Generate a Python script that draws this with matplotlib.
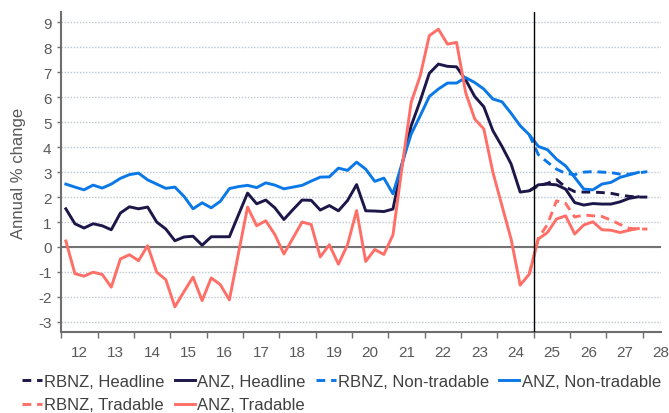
import matplotlib
matplotlib.use("Agg")
import matplotlib.pyplot as plt
import numpy as np

plt.rcParams['font.family'] = ['Liberation Sans', 'DejaVu Sans']
plt.rcParams['axes.unicode_minus'] = False

# Quarterly categories, 2012Q1 .. 2028Q1
quarters = [f"{y}Q{q}" for y in range(2012, 2029) for q in range(1, 5)][:65]
year_labels = ["12", "13", "14", "15", "16", "17", "18", "19", "20",
               "21", "22", "23", "24", "25", "26", "27", "28"]

# ANZ: actuals + forecast, 2012Q1 .. 2027Q4
anz_headline = [1.53, 0.93, 0.76, 0.93, 0.85, 0.69, 1.36, 1.61, 1.53, 1.60, 1.00, 0.72,
                0.25, 0.40, 0.43, 0.07, 0.41, 0.41, 0.41, 1.29, 2.16, 1.73, 1.88, 1.57,
                1.10, 1.50, 1.88, 1.87, 1.48, 1.66, 1.45, 1.86, 2.50, 1.45, 1.44, 1.42,
                1.52, 3.30, 4.85, 5.86, 6.96, 7.33, 7.24, 7.22, 6.70, 6.03, 5.62, 4.66,
                4.03, 3.33, 2.20, 2.25, 2.49, 2.52, 2.49, 2.32, 1.78, 1.68, 1.74, 1.72,
                1.72, 1.81, 1.95, 2.01]
anz_nontradable = [2.52, 2.40, 2.29, 2.48, 2.36, 2.52, 2.75, 2.90, 2.96, 2.69, 2.52, 2.35,
                   2.40, 2.03, 1.53, 1.77, 1.57, 1.83, 2.34, 2.42, 2.47, 2.38, 2.57, 2.48,
                   2.33, 2.40, 2.47, 2.64, 2.80, 2.81, 3.16, 3.07, 3.40, 3.12, 2.63, 2.76,
                   2.13, 3.35, 4.52, 5.26, 6.03, 6.33, 6.57, 6.57, 6.79, 6.59, 6.33, 5.93,
                   5.82, 5.36, 4.86, 4.50, 4.03, 3.90, 3.52, 3.25, 2.79, 2.32, 2.29, 2.52,
                   2.59, 2.79, 2.89, 2.99]
anz_tradable = [0.24, -1.07, -1.17, -1.01, -1.10, -1.61, -0.48, -0.31, -0.55, 0.05, -1.01, -1.31,
                -2.40, -1.79, -1.21, -2.15, -1.24, -1.51, -2.12, -0.25, 1.60, 0.85, 1.05, 0.50,
                -0.28, 0.36, 1.00, 0.90, -0.40, 0.09, -0.69, 0.09, 1.46, -0.58, -0.10, -0.30,
                0.48, 3.20, 5.79, 6.86, 8.47, 8.73, 8.13, 8.20, 6.19, 5.13, 4.73, 2.99,
                1.65, 0.32, -1.53, -1.09, 0.32, 0.58, 1.12, 1.25, 0.52, 0.88, 1.01, 0.69,
                0.67, 0.58, 0.67, 0.74]

# RBNZ forecasts, 2024Q4 .. 2028Q1
rbnz_start = "2024Q4"
rbnz_headline = [2.25, 2.45, 2.55, 2.70, 2.40, 2.22, 2.20, 2.20, 2.18, 2.15, 2.08, 2.03, 2.00, 2.00]
rbnz_nontradable = [4.50, 3.70, 3.40, 3.12, 2.95, 2.90, 3.00, 3.02, 3.00, 2.98, 2.92, 2.92, 2.97, 3.02]
rbnz_tradable = [-1.09, 0.35, 0.90, 1.85, 1.75, 1.20, 1.28, 1.25, 1.22, 1.08, 0.90, 0.75, 0.72, 0.72]

forecast_from = "2025Q1"

c_head = '#1c1748'
c_nt = '#0a78e6'
c_tr = '#ff6f68'
grey = '#595959'
lw = 2.1
dash = (0, (3.0, 2.0))

x_anz = np.arange(len(anz_headline))
i0 = quarters.index(rbnz_start)
x_rbnz = np.arange(i0, i0 + len(rbnz_headline))

fig = plt.figure(figsize=(6.69, 4.14), dpi=100)
ax = fig.add_axes([61.3 / 669, 1 - 333.3 / 414, (661.0 - 61.3) / 669, (333.3 - 12.7) / 414])

h1, = ax.plot(x_rbnz, rbnz_headline, color=c_head, lw=lw, ls=dash, label='RBNZ, Headline')
h2, = ax.plot(x_anz, anz_headline, color=c_head, lw=lw, label='ANZ, Headline')
h3, = ax.plot(x_rbnz, rbnz_nontradable, color=c_nt, lw=lw, ls=dash, label='RBNZ, Non-tradable')
h4, = ax.plot(x_anz, anz_nontradable, color=c_nt, lw=lw, label='ANZ, Non-tradable')
h5, = ax.plot(x_rbnz, rbnz_tradable, color=c_tr, lw=lw, ls=dash, label='RBNZ, Tradable')
h6, = ax.plot(x_anz, anz_tradable, color=c_tr, lw=lw, label='ANZ, Tradable')

# forecast divider
ax.axvline(quarters.index(forecast_from) - 0.5, color='black', lw=1.0, zorder=3)
ax.axhline(0, color='#737373', lw=1.5, zorder=1.5)

ax.set_xlim(-0.5, len(quarters) + 0.5)
ax.set_ylim(-3.42, 9.43)

ax.set_yticks(range(-3, 10))
ax.yaxis.grid(True, linestyle=(0, (1, 1.2)), color='#bcc6d1', lw=1.0)
ax.set_axisbelow(True)

ax.set_xticks(np.arange(-0.5, len(quarters), 4))
ax.set_xticklabels([])
ax.set_xticks(np.arange(1.5, 1.5 + 4 * len(year_labels), 4), minor=True)
ax.set_xticklabels(year_labels, minor=True)
ax.tick_params(axis='x', which='major', direction='out', length=4, width=1, color='#6e6e6e')
ax.tick_params(axis='x', which='minor', length=0, pad=9, labelsize=11, labelcolor=grey)
ax.tick_params(axis='y', direction='out', length=3, width=1, color='#6e6e6e',
               pad=4, labelsize=11, labelcolor=grey)

for s in ['top', 'right']:
    ax.spines[s].set_visible(False)
for s in ['left', 'bottom']:
    ax.spines[s].set_color('#6e6e6e')
    ax.spines[s].set_linewidth(1.5)

fig.text(18.5 / 669, 0.582, 'Annual % change', rotation=90, ha='center', va='center',
         fontsize=12, color=grey)

# row-major legend order for ncol=4
handles = [h1, h5, h2, h6, h3, h4]
fig.legend(handles, [h.get_label() for h in handles], loc='upper left',
           bbox_to_anchor=(22 / 669, 1 - 375 / 414), ncol=4, frameon=False,
           fontsize=12, handlelength=1.2, handletextpad=0.15, columnspacing=0.6,
           borderpad=0, borderaxespad=0, labelspacing=0.5, labelcolor='#404040')

fig.savefig('out.png', dpi=100)
